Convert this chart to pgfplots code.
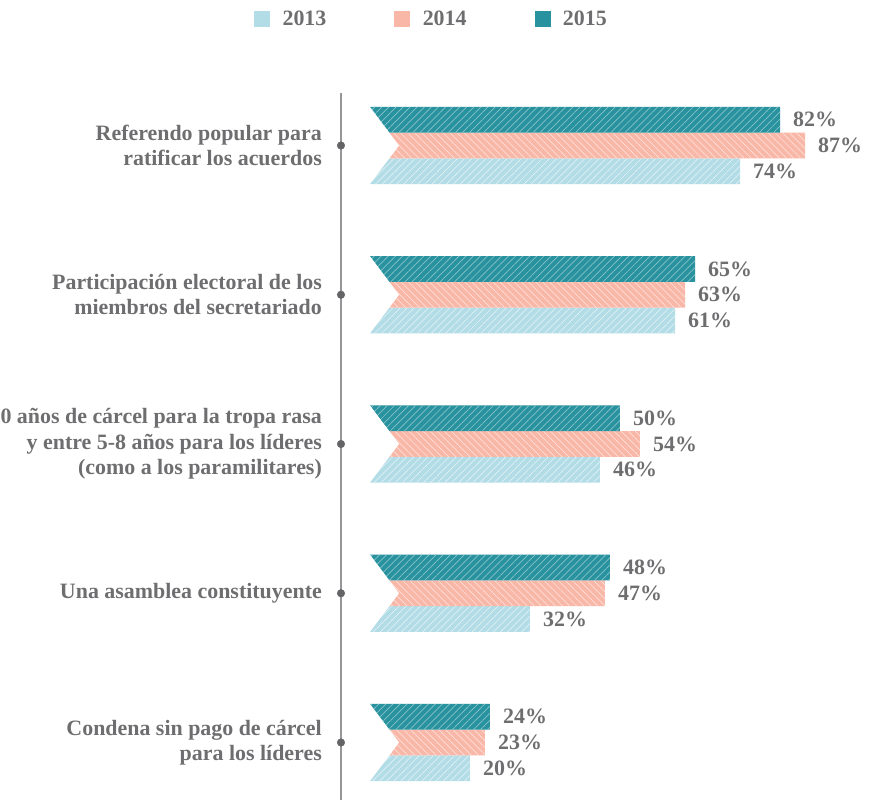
\documentclass[border=0pt]{standalone}
\usepackage{fontspec}
\setmainfont{Liberation Serif}
\usepackage{pgfplots}
\pgfplotsset{compat=1.18}
\usetikzlibrary{patterns.meta}
\definecolor{cA}{RGB}{178,220,230}
\definecolor{cB}{RGB}{249,183,168}
\definecolor{cC}{RGB}{40,146,158}
\definecolor{txt}{RGB}{110,110,112}
\definecolor{axgray}{RGB}{150,150,152}
\definecolor{dotgray}{RGB}{100,100,102}
\newcommand\lf{\fontsize{22}{25.5}\selectfont\bfseries}
\begin{document}
\begin{tikzpicture}
\begin{axis}[name=ax, scale only axis, width=528bp, height=707bp,
  xmin=-5.8, xmax=99.8, ymin=0.6147, ymax=5.3518,
  axis x line=none, axis y line=left,
  y axis line style={-, draw=axgray, line width=1.6bp},
  ytick={1,2,3,4,5},
  yticklabels={{Condena sin pago de cárcel\\para los líderes},
    {Una asamblea constituyente},
    {0 años de cárcel para la tropa rasa\\y entre 5-8 años para los líderes\\(como a los paramilitares)},
    {Participación electoral de los\\miembros del secretariado},
    {Referendo popular para\\ratificar los acuerdos}},
  yticklabel style={align=right, font=\lf, text=txt, inner sep=0pt, xshift=-19bp},
  major tick length=0pt,
  clip=false,
  bar width=25.67bp,
  lbl/.style={point meta=x, nodes near coords={\pgfmathprintnumber[assume math mode=true]{\pgfplotspointmeta}\%},
    nodes near coords style={font=\lf, text=txt, anchor=west, inner sep=0pt, xshift=13bp, yshift=#1}},
  legend image code/.code={\fill[#1] (0bp,-7.5bp) rectangle (15bp,7.5bp);},
  legend columns=3,
  legend style={draw=none, fill=none, font=\lf, text=txt,
    at={(axis cs:12.3,5.8476)}, anchor=center,
    /tikz/every odd column/.append style={column sep=11bp},
    /tikz/every even column/.append style={column sep=66bp}},
]
\addlegendimage{cA}
\addlegendimage{cB}
\addlegendimage{cC}
\addplot[xbar, lbl=-25.67bp, bar shift=-25.67bp, fill=cA, draw=none, forget plot,
  postaction={pattern={Lines[angle=45,distance=5bp,line width=0.7bp]}, pattern color=cA!40!white}]
  coordinates {(74,5) (61,4) (46,3) (32,2) (20,1)};
\addplot[xbar, lbl=0bp, bar shift=0bp, fill=cB, draw=none, forget plot,
  postaction={pattern={Lines[angle=-45,distance=5bp,line width=0.7bp]}, pattern color=cB!45!white}]
  coordinates {(87,5) (63,4) (54,3) (47,2) (23,1)};
\addplot[xbar, lbl=25.67bp, bar shift=25.67bp, fill=cC, draw=none, forget plot,
  postaction={pattern={Lines[angle=45,distance=5bp,line width=0.7bp]}, pattern color=cC!55!white}]
  coordinates {(82,5) (65,4) (50,3) (48,2) (24,1)};
\addplot[fill=white, draw=none, forget plot] coordinates {(-0.5,5.258) (0,5.258) (5.8,5) (0,4.742) (-0.5,4.742)} --cycle;
\addplot[fill=white, draw=none, forget plot] coordinates {(-0.5,4.258) (0,4.258) (5.8,4) (0,3.742) (-0.5,3.742)} --cycle;
\addplot[fill=white, draw=none, forget plot] coordinates {(-0.5,3.258) (0,3.258) (5.8,3) (0,2.742) (-0.5,2.742)} --cycle;
\addplot[fill=white, draw=none, forget plot] coordinates {(-0.5,2.258) (0,2.258) (5.8,2) (0,1.742) (-0.5,1.742)} --cycle;
\addplot[fill=white, draw=none, forget plot] coordinates {(-0.5,1.258) (0,1.258) (5.8,1) (0,0.742) (-0.5,0.742)} --cycle;
\addplot[only marks, mark=*, mark size=3.8bp, color=dotgray, forget plot]
  coordinates {(-5.8,1) (-5.8,2) (-5.8,3) (-5.8,4) (-5.8,5)};
\legend{2013,2014,2015}
\end{axis}
\pgfresetboundingbox
\path[use as bounding box] ([xshift=-341bp]ax.south west) rectangle ([yshift=93bp]ax.north east);
\end{tikzpicture}
\end{document}
